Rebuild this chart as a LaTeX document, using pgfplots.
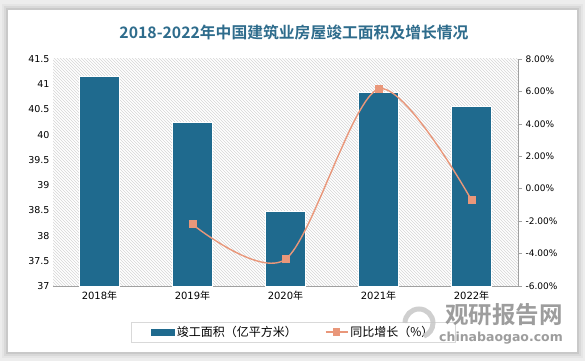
\documentclass[border=0pt]{standalone}
\usepackage{pgfplots}
\pgfplotsset{compat=1.18}
\usepackage{fontspec}
\setmainfont{DejaVu Sans}
\newfontfamily\cjk{Noto Sans CJK SC}
\newfontfamily\cjkb{Noto Sans CJK SC Bold}
\usetikzlibrary{patterns}
\definecolor{barc}{HTML}{1F6A8E}
\definecolor{linec}{HTML}{E9977A}
\definecolor{titlec}{HTML}{2E6C8C}
\definecolor{axc}{HTML}{A0A0A0}
\begin{document}
\begin{tikzpicture}[x=1pt,y=1pt]
% background and card
\fill[black!7] (0,0) rectangle (585,361);
\foreach \i/\o in {6/0.03,4/0.05,2/0.07} {
  \fill[black,opacity=\o] (8-\i,9-\i) rectangle (577+\i,351+\i);
}
\fill[white] (8,9) rectangle (577,351);
\node[font=\cjkb\fontsize{15.8}{18}\selectfont, text=titlec] at (294,329) {2018-2022年中国建筑业房屋竣工面积及增长情况};
\begin{axis}[
  at={(53pt,75pt)}, anchor=south west, scale only axis,
  width=465pt, height=227pt,
  xmin=-0.5, xmax=4.5, ymin=37, ymax=41.5,
  axis background/.style={pattern=north west lines, pattern color=black!16},
  axis x line*=bottom, axis y line*=left,
  x axis line style={draw=axc, line width=0.6pt},
  y axis line style={draw=none},
  xtick={0,...,4},
  xticklabels={2018{\cjk 年},2019{\cjk 年},2020{\cjk 年},2021{\cjk 年},2022{\cjk 年}},
  xticklabel style={font=\fontsize{10}{11}\selectfont, yshift=-2pt},
  ytick={37,37.5,...,41.5},
  yticklabel style={font=\fontsize{9.5}{10}\selectfont},
  /pgf/number format/assume math mode=true,
  major tick length=0pt,
  ybar, bar width=40pt,
]
\addplot[fill=barc, draw=white, line width=0.8pt] coordinates {(0,41.15) (1,40.25) (2,38.48) (3,40.84) (4,40.56)};
\end{axis}
\begin{axis}[
  at={(53pt,75pt)}, anchor=south west, scale only axis,
  width=465pt, height=227pt,
  xmin=-0.5, xmax=4.5, ymin=-6, ymax=8,
  axis y line*=right, axis x line=none,
  y axis line style={draw=axc, line width=0.6pt},
  ytick={-6,-4,...,8},
  yticklabel={\pgfmathprintnumber[fixed,fixed zerofill,precision=2]{\tick}\%},
  yticklabel style={font=\fontsize{9}{10}\selectfont},
  /pgf/number format/assume math mode=true,
  tick align=outside, major tick length=4pt,
  ytick style={draw=axc, line width=0.6pt},
  legend columns=2,
  legend style={at={(0.517,-0.2026)}, anchor=center, draw=black!15, line width=0.6pt,
    font=\cjk\fontsize{12}{14}\selectfont, inner xsep=20pt, inner ysep=2pt,
    /tikz/every even column/.append style={column sep=26pt}},
]
\addlegendimage{legend image code/.code={\fill[barc] (0pt,-3pt) rectangle (23pt,3pt);}}
\addlegendentry{竣工面积（亿平方米）}
\addplot[smooth, color=linec, line width=1.4pt, mark=square*, mark size=3.3pt,
  mark options={fill=linec, draw=linec},
  legend image code/.code={\draw[linec, line width=1.4pt] (0pt,0pt) -- (22pt,0pt); \fill[linec] (8pt,-3pt) rectangle (14pt,3pt);}]
  coordinates {(1,-2.2) (2,-4.35) (3,6.15) (4,-0.7)};
\addlegendentry{同比增长（\%）}
\end{axis}
% watermark
\draw[black!22, line width=5pt, opacity=0.85] (405,38) arc (180:-70:14);
\node[font=\cjkb\fontsize{23.5}{26}\selectfont, text=black!45, opacity=0.85] at (504,46) {观研报告网};
\node[font=\fontsize{12.5}{14}\selectfont\bfseries, text=black!45, opacity=0.85] at (501,23) {chinabaogao.com};
\end{tikzpicture}
\end{document}
